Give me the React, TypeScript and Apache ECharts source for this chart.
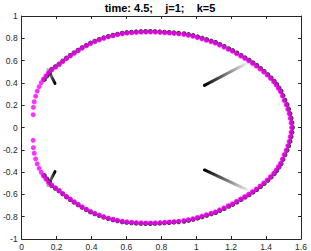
import React, { useEffect, useRef } from "react";
import * as echarts from "echarts";

const titleText = "time: 4.5;    j=1;    k=5";

const magentaUpper: [number, number][] = [
  [0.066, 0.115], [0.067, 0.181], [0.072, 0.231], [0.080, 0.281], [0.089, 0.326], [0.100, 0.366], [0.112, 0.402], [0.124, 0.433], [0.138, 0.463], [0.153, 0.491],
  [0.173, 0.518], [0.194, 0.541], [0.215, 0.565], [0.236, 0.592], [0.257, 0.618], [0.279, 0.642], [0.301, 0.666], [0.324, 0.689], [0.347, 0.712], [0.371, 0.733],
  [0.395, 0.753], [0.420, 0.770], [0.445, 0.786], [0.471, 0.800], [0.497, 0.813], [0.524, 0.823], [0.550, 0.833], [0.577, 0.841], [0.604, 0.846], [0.631, 0.850],
  [0.658, 0.853], [0.685, 0.855], [0.712, 0.856], [0.739, 0.856], [0.766, 0.855], [0.793, 0.853], [0.820, 0.850], [0.847, 0.847], [0.874, 0.844], [0.901, 0.840],
  [0.928, 0.835], [0.954, 0.827], [0.980, 0.818], [1.006, 0.807], [1.032, 0.795], [1.058, 0.782], [1.084, 0.769], [1.109, 0.756], [1.133, 0.739], [1.158, 0.721],
  [1.183, 0.702], [1.206, 0.685], [1.230, 0.663], [1.254, 0.641], [1.277, 0.620], [1.300, 0.599], [1.322, 0.575], [1.344, 0.551], [1.365, 0.525], [1.386, 0.498],
  [1.406, 0.471], [1.425, 0.441], [1.443, 0.411], [1.457, 0.383], [1.470, 0.352], [1.482, 0.322], [1.493, 0.283], [1.503, 0.244], [1.515, 0.204], [1.524, 0.164],
  [1.532, 0.124], [1.538, 0.083], [1.543, 0.042], [1.546, 0.000],
];

const magentaLower: [number, number][] = [
  [0.066, -0.115], [0.067, -0.181], [0.072, -0.231], [0.080, -0.281], [0.089, -0.326], [0.100, -0.366], [0.112, -0.402], [0.124, -0.433], [0.138, -0.463], [0.153, -0.491],
  [0.173, -0.518], [0.194, -0.541], [0.215, -0.565], [0.236, -0.592], [0.257, -0.618], [0.279, -0.642], [0.301, -0.666], [0.324, -0.689], [0.347, -0.712], [0.371, -0.733],
  [0.395, -0.753], [0.420, -0.770], [0.445, -0.786], [0.471, -0.800], [0.497, -0.813], [0.524, -0.823], [0.550, -0.833], [0.577, -0.841], [0.604, -0.846], [0.631, -0.850],
  [0.658, -0.853], [0.685, -0.855], [0.712, -0.856], [0.739, -0.856], [0.766, -0.855], [0.793, -0.853], [0.820, -0.850], [0.847, -0.847], [0.874, -0.844], [0.901, -0.840],
  [0.928, -0.835], [0.954, -0.827], [0.980, -0.818], [1.006, -0.807], [1.032, -0.795], [1.058, -0.782], [1.084, -0.769], [1.109, -0.756], [1.133, -0.739], [1.158, -0.721],
  [1.183, -0.702], [1.206, -0.685], [1.230, -0.663], [1.254, -0.641], [1.277, -0.620], [1.300, -0.599], [1.322, -0.575], [1.344, -0.551], [1.365, -0.525], [1.386, -0.498],
  [1.406, -0.471], [1.425, -0.441], [1.443, -0.411], [1.457, -0.383], [1.470, -0.352], [1.482, -0.322], [1.493, -0.283], [1.503, -0.244], [1.515, -0.204], [1.524, -0.164],
  [1.532, -0.124], [1.538, -0.083], [1.543, -0.042],
];

const blackUpper: [number, number][] = [
  [0.130, 0.431], [0.144, 0.461], [0.159, 0.489],
  [0.172, 0.522], [0.193, 0.545], [0.214, 0.569], [0.235, 0.596], [0.256, 0.622], [0.278, 0.646], [0.300, 0.670], [0.323, 0.693], [0.346, 0.716], [0.370, 0.737],
  [0.394, 0.757], [0.419, 0.774], [0.444, 0.790], [0.470, 0.804], [0.496, 0.817], [0.523, 0.827], [0.549, 0.837], [0.576, 0.845],
  [0.602, 0.851], [0.629, 0.855], [0.656, 0.858], [0.683, 0.860], [0.710, 0.861], [0.737, 0.861], [0.764, 0.860], [0.791, 0.858], [0.818, 0.855], [0.845, 0.852], [0.872, 0.849], [0.899, 0.845],
  [0.930, 0.841], [0.956, 0.833], [0.982, 0.824], [1.008, 0.813], [1.034, 0.801], [1.060, 0.788], [1.086, 0.775], [1.111, 0.762], [1.135, 0.745], [1.160, 0.727],
  [1.186, 0.707], [1.209, 0.690], [1.233, 0.668], [1.257, 0.646], [1.280, 0.625], [1.303, 0.604], [1.325, 0.580], [1.347, 0.556], [1.368, 0.530], [1.389, 0.503],
  [1.410, 0.474], [1.429, 0.444], [1.447, 0.414], [1.461, 0.386], [1.474, 0.355], [1.486, 0.325], [1.497, 0.286],
  [1.508, 0.245], [1.520, 0.205], [1.529, 0.165], [1.537, 0.125], [1.543, 0.084], [1.548, 0.043], [1.551, 0.000],
];

const blackLower: [number, number][] = [
  [0.130, -0.431], [0.144, -0.461], [0.159, -0.489],
  [0.172, -0.522], [0.193, -0.545], [0.214, -0.569], [0.235, -0.596], [0.256, -0.622], [0.278, -0.646], [0.300, -0.670], [0.323, -0.693], [0.346, -0.716], [0.370, -0.737],
  [0.394, -0.757], [0.419, -0.774], [0.444, -0.790], [0.470, -0.804], [0.496, -0.817], [0.523, -0.827], [0.549, -0.837], [0.576, -0.845],
  [0.602, -0.851], [0.629, -0.855], [0.656, -0.858], [0.683, -0.860], [0.710, -0.861], [0.737, -0.861], [0.764, -0.860], [0.791, -0.858], [0.818, -0.855], [0.845, -0.852], [0.872, -0.849], [0.899, -0.845],
  [0.930, -0.841], [0.956, -0.833], [0.982, -0.824], [1.008, -0.813], [1.034, -0.801], [1.060, -0.788], [1.086, -0.775], [1.111, -0.762], [1.135, -0.745], [1.160, -0.727],
  [1.186, -0.707], [1.209, -0.690], [1.233, -0.668], [1.257, -0.646], [1.280, -0.625], [1.303, -0.604], [1.325, -0.580], [1.347, -0.556], [1.368, -0.530], [1.389, -0.503],
  [1.410, -0.474], [1.429, -0.444], [1.447, -0.414], [1.461, -0.386], [1.474, -0.355], [1.486, -0.325], [1.497, -0.286],
  [1.508, -0.245], [1.520, -0.205], [1.529, -0.165], [1.537, -0.125], [1.543, -0.084], [1.548, -0.043],
];

// rods: first point is the dark end
const rodUpperLeft: [number, number][] = [[0.191, 0.396], [0.150, 0.52]];
const rodLowerLeft: [number, number][] = [[0.191, -0.396], [0.150, -0.52]];
const rodUpperRight: [number, number][] = [[1.047, 0.378], [1.305, 0.59]];
const rodLowerRight: [number, number][] = [[1.047, -0.381], [1.312, -0.576]];

const axisColor = "#262626";
const font = "'Liberation Sans', Arial, Helvetica, sans-serif";

function grad(x0: number, y0: number, x1: number, y1: number, end: string) {
  return new echarts.graphic.LinearGradient(x0, y0, x1, y1, [
    { offset: 0, color: "#000000" },
    { offset: 1, color: end },
  ]);
}

function rod(data: [number, number][], color: any) {
  return {
    type: "line",
    data,
    showSymbol: false,
    symbol: "none",
    z: 1,
    silent: true,
    lineStyle: { width: 3, color, cap: "round" },
  };
}

export default function App() {
  const ref = useRef<HTMLDivElement>(null);
  useEffect(() => {
    if (!ref.current) return;
    const chart = echarts.init(ref.current, undefined, { renderer: "svg" });
    const xBase = {
      type: "value",
      min: 0,
      max: 1.6,
      interval: 0.2,
      splitLine: { show: false },
      axisLine: { show: true, onZero: false, lineStyle: { color: axisColor, width: 1 } },
      axisTick: { show: true, inside: true, length: 3, lineStyle: { color: axisColor } },
    };
    const yBase = {
      type: "value",
      min: -1,
      max: 1,
      interval: 0.2,
      splitLine: { show: false },
      axisLine: { show: true, onZero: false, lineStyle: { color: axisColor, width: 1 } },
      axisTick: { show: true, inside: true, length: 3, lineStyle: { color: axisColor } },
    };
    chart.setOption({
      animation: false,
      backgroundColor: "#ffffff",
      graphic: [
        {
          type: "text",
          x: 160,
          y: 2,
          style: {
            text: titleText,
            align: "center",
            verticalAlign: "top",
            fill: "#000000",
            fontSize: 11,
            fontWeight: "bold",
            fontFamily: font,
          },
        },
      ],
      grid: { left: 19, right: 10, top: 16, bottom: 12, containLabel: false },
      xAxis: [
        { ...xBase, position: "bottom", axisLabel: { color: axisColor, fontSize: 8.5, fontFamily: font, margin: 3 } },
        { ...xBase, position: "top", axisLabel: { show: false } },
      ],
      yAxis: [
        { ...yBase, position: "left", axisLabel: { color: axisColor, fontSize: 8.5, fontFamily: font, margin: 4 } },
        { ...yBase, position: "right", axisLabel: { show: false } },
      ],
      series: [
        rod(rodUpperLeft, grad(1, 1, 0, 0, "#b0b0b0")),
        rod(rodLowerLeft, grad(1, 0, 0, 1, "#b0b0b0")),
        rod(rodUpperRight, grad(0, 1, 1, 0, "#ffffff")),
        rod(rodLowerRight, grad(0, 0, 1, 1, "#ffffff")),
        {
          type: "scatter",
          data: [...blackUpper, ...blackLower],
          symbolSize: 5,
          z: 2,
          itemStyle: { color: "#000000" },
        },
        {
          type: "scatter",
          data: [...magentaUpper, ...magentaLower],
          symbolSize: 5,
          z: 3,
          itemStyle: { color: "#ff00ff" },
        },
      ],
    });
    return () => chart.dispose();
  }, []);
  return (
    <div
      ref={ref}
      style={{ position: "fixed", left: 0, top: 0, width: 311, height: 251, background: "#fff" }}
    />
  );
}
